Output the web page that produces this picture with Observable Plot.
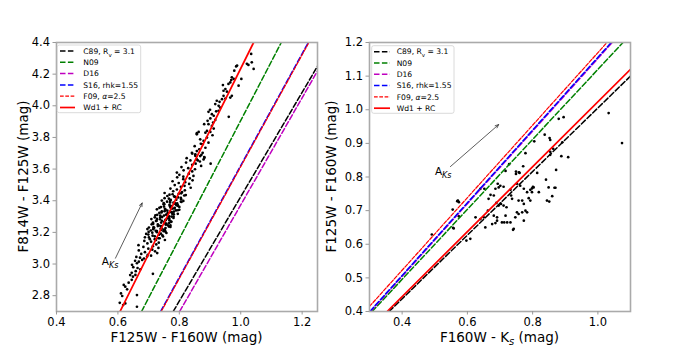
<!DOCTYPE html>
<html><head><meta charset="utf-8">
<script src="https://cdn.jsdelivr.net/npm/d3@7"></script>
<script src="https://cdn.jsdelivr.net/npm/@observablehq/plot@0.6"></script>
<style>
body{margin:0;background:#fff;font-family:"DejaVu Sans",sans-serif;}
#wrap{position:relative;width:700px;height:350px;overflow:hidden;background:#fff;}
#wrap svg{position:absolute;top:0;}
</style></head><body><div id="wrap"></div>
<script>
// ---- tick values ----
const leftXTicks = [0.4, 0.6, 0.8, 1.0, 1.2];
const leftYTicks = [2.8, 3.0, 3.2, 3.4, 3.6, 3.8, 4.0, 4.2, 4.4];
const rightXTicks = [0.4, 0.6, 0.8, 1.0];
const rightYTicks = [0.4, 0.5, 0.6, 0.7, 0.8, 0.9, 1.0, 1.1, 1.2];
const leftXDomain = [0.4, 1.25], leftYDomain = [2.7, 4.4];
const rightXDomain = [0.3, 1.1], rightYDomain = [0.4, 1.2];

// ---- models (legend order) ----
const models = ["C89", "N09", "D16", "S16", "F09", "Wd1"];
// reddening lines, start and end points (data units)
const leftLineStart = [[0.780, 2.7], [0.677, 2.7], [0.801, 2.7], [0.739, 2.7], [0.741, 2.7], [0.607, 2.7]];
const leftLineEnd   = [[1.250, 4.25], [1.132, 4.4], [1.250, 4.22], [1.220, 4.4], [1.222, 4.4], [1.042, 4.4]];
const rightLineStart = [[0.360, 0.4], [0.308, 0.4], [0.303, 0.4], [0.301, 0.4], [0.300, 0.415], [0.354, 0.4]];
const rightLineEnd   = [[1.100, 1.10], [1.077, 1.2], [1.044, 1.2], [1.041, 1.2], [1.028, 1.2], [1.100, 1.12]];

// ---- arrows (A_Ks) ----
const leftArrow = [[0.592, 3.037], [0.679, 3.386]];
const leftArrowLabel = [0.549, 2.99];
const rightArrow = [[0.548, 0.831], [0.696, 0.956]];
const rightArrowLabel = [0.502, 0.804];

// ---- stars: F125W-F160W vs F814W-F125W ----
const leftStars = [
[1.034,4.328],[1.042,4.233],[1.020,4.265],[1.025,4.258],[0.985,4.249],[0.979,4.222],[0.971,4.180],[0.977,4.170],[0.969,4.163],[1.002,4.170],
[0.993,4.127],[0.966,4.148],[0.960,4.138],[0.942,4.131],[0.950,4.106],[0.944,4.095],[0.955,4.089],[0.971,4.063],[0.966,4.052],[0.944,4.063],
[0.950,4.046],[0.939,4.042],[0.922,4.032],[0.931,4.025],[0.917,4.011],[0.928,4.000],[0.933,3.989],[0.961,3.930],[1.036,4.275],[0.988,4.254],
[0.895,3.962],[0.906,3.947],[0.912,3.937],[0.901,3.920],[0.917,3.911],[0.910,3.894],[0.895,3.884],[0.906,3.873],[0.912,3.856],[0.901,3.835],
[0.890,3.841],[0.900,3.975],[0.920,3.965],[0.892,3.905],[0.928,3.968],[0.881,3.884],
[0.863,3.835],[0.857,3.820],[0.885,3.830],[0.890,3.799],[0.908,3.814],[0.879,3.778],[0.895,3.767],[0.868,3.788],[0.876,3.757],[0.885,3.735],
[0.857,3.714],[0.865,3.725],[0.852,3.693],[0.868,3.682],[0.876,3.703],[0.882,3.672],[0.879,3.661],[0.841,3.703],[0.870,3.760],[0.850,3.745],
[0.902,3.634],[0.860,3.655],[0.857,3.827],
[0.842,3.698],[0.872,3.690],[0.852,3.684],[0.881,3.676],[0.824,3.669],[0.857,3.662],[0.836,3.655],[0.867,3.648],[0.822,3.641],[0.853,3.634],
[0.842,3.627],[0.871,3.620],[0.807,3.613],[0.829,3.606],[0.851,3.599],[0.814,3.592],[0.842,3.585],[0.792,3.578],[0.831,3.571],[0.800,3.564],
[0.846,3.557],[0.813,3.552],
[0.793,3.548],[0.834,3.541],[0.813,3.536],[0.843,3.529],[0.778,3.523],[0.819,3.517],[0.798,3.512],[0.832,3.506],[0.785,3.499],[0.817,3.494],
[0.805,3.488],[0.837,3.482],[0.771,3.477],[0.792,3.471],[0.818,3.466],[0.780,3.460],[0.809,3.455],[0.752,3.449],[0.798,3.444],[0.768,3.438],
[0.816,3.433],[0.783,3.427],[0.796,3.421],[0.752,3.416],[0.806,3.410],[0.772,3.405],[0.813,3.399],[0.760,3.394],[0.781,3.388],[0.793,3.383],
[0.749,3.377],[0.791,3.372],[0.769,3.366],[0.800,3.361],[0.735,3.355],[0.776,3.350],[0.755,3.344],[0.789,3.339],[0.743,3.333],[0.775,3.328],
[0.762,3.322],[0.795,3.317],[0.728,3.311],[0.750,3.306],[0.775,3.300],[0.738,3.295],[0.767,3.289],[0.709,3.284],[0.756,3.278],[0.726,3.273],
[0.774,3.267],[0.741,3.262],[0.754,3.256],[0.710,3.251],[0.763,3.245],[0.730,3.240],[0.771,3.234],[0.718,3.229],[0.739,3.223],[0.750,3.218],
[0.707,3.212],[0.749,3.207],[0.727,3.201],[0.758,3.196],[0.692,3.190],[0.734,3.185],[0.713,3.179],[0.747,3.174],[0.701,3.168],[0.732,3.163],
[0.720,3.157],[0.753,3.152],[0.686,3.146],[0.708,3.141],[0.733,3.135],[0.696,3.130],[0.725,3.124],[0.667,3.119],[0.714,3.113],[0.683,3.108],
[0.732,3.102],[0.699,3.097],[0.712,3.091],[0.668,3.086],[0.721,3.080],[0.688,3.075],[0.728,3.069],[0.676,3.064],[0.697,3.058],[0.708,3.053],
[0.806,3.447],[0.778,3.441],[0.821,3.436],[0.761,3.430],[0.786,3.424],[0.805,3.418],[0.766,3.413],[0.790,3.407],[0.743,3.401],[0.805,3.395],
[0.770,3.389],[0.786,3.384],[0.751,3.378],[0.795,3.372],[0.776,3.366],[0.740,3.360],[0.785,3.355],[0.753,3.349],[0.800,3.343],[0.761,3.337],
[0.782,3.331],[0.742,3.326],[0.763,3.320],[0.782,3.314],[0.722,3.308],[0.767,3.302],[0.744,3.297],[0.781,3.291],[0.727,3.285],[0.755,3.279],
[0.743,3.273],[0.773,3.268],[0.714,3.262],[0.758,3.256],[0.730,3.250],[0.771,3.244],[0.740,3.239],[0.716,3.233],[0.755,3.227],[0.696,3.221],
[0.742,3.215],[0.723,3.210],[0.755,3.204],[0.712,3.198],[0.740,3.192],[0.699,3.186],[0.745,3.181],[0.720,3.175],[0.688,3.169],[0.736,3.163],
[0.704,3.157],[0.724,3.152],
[0.770,3.398],[0.807,3.392],[0.749,3.385],[0.787,3.380],[0.768,3.374],[0.795,3.368],[0.750,3.363],[0.771,3.357],[0.783,3.351],[0.727,3.346],
[0.795,3.340],[0.752,3.334],[0.770,3.329],[0.735,3.323],[0.777,3.317],[0.757,3.312],[0.738,3.306],[0.781,3.300],[0.720,3.295],[0.762,3.289],
[0.737,3.283],[0.768,3.277],[0.724,3.272],[0.751,3.266],[0.767,3.260],[0.715,3.254],[0.756,3.249],[0.733,3.243],[0.766,3.237],[0.701,3.231],
[0.742,3.226],[0.715,3.220],[0.753,3.214],[0.727,3.208],[0.700,3.203],
[0.660,3.045],[0.672,3.040],[0.685,3.035],[0.656,3.020],[0.668,3.015],[0.646,2.995],[0.662,3.005],[0.673,2.967],[0.650,2.980],[0.664,2.975],
[0.658,2.955],[0.649,2.920],[0.657,2.931],[0.714,2.938],[0.645,2.945],[0.640,2.930],[0.679,3.026],[0.695,3.047],
[0.635,2.882],[0.624,2.857],[0.619,2.868],[0.610,2.814],[0.606,2.755],[0.617,2.741],[0.662,2.730],[0.630,2.840],[0.645,2.900],[0.614,2.798],
[0.662,2.804],[0.624,2.751]
];

// ---- stars: F160W-Ks vs F125W-F160W ----
const rightStars = [
[1.033,0.990],[1.074,0.901],[0.895,0.978],[0.880,0.973],[0.837,0.926],[0.852,0.916],[0.854,0.910],[0.805,0.906],[0.778,0.871],[0.771,0.832],
[0.749,0.816],[0.749,0.809],[0.728,0.838],[0.717,0.818],[0.814,0.812],[0.872,0.821],[0.891,0.903],[0.863,0.884],[0.888,0.862],[0.909,0.859],
[0.854,0.875],[0.854,0.866],[0.758,0.814],[0.760,0.812],[0.841,0.792],[0.870,0.768],[0.693,0.780],[0.701,0.774],[0.711,0.771],[0.752,0.780],
[0.762,0.774],[0.801,0.771],[0.793,0.762],[0.732,0.762],[0.652,0.765],[0.696,0.769],[0.665,0.735],[0.689,0.723],[0.696,0.715],[0.703,0.720],
[0.711,0.715],[0.720,0.710],[0.737,0.735],[0.757,0.730],[0.768,0.730],[0.773,0.720],[0.778,0.700],[0.768,0.695],[0.783,0.695],[0.752,0.695],
[0.757,0.690],[0.773,0.765],[0.783,0.755],[0.798,0.755],[0.798,0.766],[0.844,0.730],[0.860,0.743],[0.851,0.727],[0.663,0.700],[0.681,0.685],
[0.691,0.680],[0.691,0.670],[0.686,0.663],[0.722,0.665],[0.732,0.665],[0.742,0.646],[0.747,0.680],[0.717,0.685],[0.655,0.650],[0.676,0.660],
[0.640,0.675],[0.650,0.680],[0.625,0.680],[0.597,0.611],[0.609,0.616],[0.574,0.725],[0.571,0.730],[0.558,0.647],[0.671,0.747],[0.681,0.745],
[0.640,0.765],[0.686,0.765],[0.734,0.745],[0.793,0.730],[0.788,0.737],[0.803,0.769],[0.849,0.769],[0.867,0.768],[0.569,0.728],[0.555,0.703],
[0.574,0.683],[0.556,0.649],[0.491,0.629],[0.706,0.665],[0.713,0.665],[0.740,0.643],[0.773,0.670],[0.819,0.755]
];

// ---- styling (not data) ----
const modelStyle = {
  C89: {stroke: "black",   dash: "5.5,2.4", width: 1.5},
  N09: {stroke: "#008000", dash: "5.5,2.4", width: 1.5},
  D16: {stroke: "#bf00bf", dash: "5.5,2.4", width: 1.5},
  S16: {stroke: "#0000ff", dash: "5.5,2.4", width: 1.5},
  F09: {stroke: "#ff0000", dash: "3.7,1.6", width: 1.2},
  Wd1: {stroke: "#ff0000", dash: null,      width: 1.7}
};
const legendLabels = {
  C89: [["C89, R"], ["v", "sub"], [" = 3.1"]],
  N09: [["N09"]],
  D16: [["D16"]],
  S16: [["S16, rhk=1.55"]],
  F09: [["F09, "], ["α", "it"], ["=2.5"]],
  Wd1: [["Wd1 + RC"]]
};

const FONT = "DejaVu Sans";

function richText(sel, parts, subSize) {
  let shifted = false;
  parts.forEach(([t, kind]) => {
    const ts = sel.append("tspan").text(t);
    if (kind === "sub" || kind === "subit") {
      ts.attr("font-size", subSize).attr("font-style", kind === "subit" ? "italic" : "normal");
      if (!shifted) { ts.attr("dy", 3); shifted = true; }
    } else {
      if (kind === "it") ts.attr("font-style", "italic");
      if (shifted) { ts.attr("dy", -3); shifted = false; }
    }
  });
}

function panel(cfg) {
  const lineMarks = models.map((m, i) => Plot.line([cfg.start[i], cfg.end[i]], {
    x: d => d[0], y: d => d[1], stroke: modelStyle[m].stroke, strokeWidth: modelStyle[m].width,
    strokeDasharray: modelStyle[m].dash, clip: true
  }));
  const svg = Plot.plot({
    width: cfg.width, height: 350,
    marginLeft: cfg.ml, marginRight: cfg.mr, marginTop: 42, marginBottom: 39,
    x: {domain: cfg.xd}, y: {domain: cfg.yd},
    style: {fontFamily: FONT, background: "none", overflow: "visible", color: "black"},
    marks: [
      Plot.dot(cfg.stars, {x: d => d[0], y: d => d[1], r: 1.35, fill: "black", stroke: null, clip: true}),
      ...lineMarks,
      Plot.arrow([cfg.arrow], {x1: d => d[0][0], y1: d => d[0][1], x2: d => d[1][0], y2: d => d[1][1],
        stroke: "#333", strokeWidth: 0.8, headLength: 7, headAngle: 45}),
      Plot.frame({stroke: "#aaaaaa", strokeWidth: 1.6}),
      Plot.axisX(cfg.xt, {tickSize: 3.5, tickPadding: 2.5, stroke: "#999", fill: "black", fontSize: 11.5,
        tickFormat: d3.format(".1f"), label: null}),
      Plot.axisY(cfg.yt, {tickSize: 3.5, tickPadding: 3, stroke: "#999", fill: "black", fontSize: 11.5,
        tickFormat: d3.format(".1f"), label: null})
    ]
  });
  const sx = svg.scale("x"), sy = svg.scale("y");
  const s = d3.select(svg);
  const fx0 = cfg.ml, fx1 = cfg.width - cfg.mr;
  // axis labels
  const xl = s.append("text").attr("x", (fx0 + fx1) / 2).attr("y", 341.5).attr("text-anchor", "middle")
    .attr("font-family", FONT).attr("font-size", 13.5).attr("fill", "black");
  richText(xl, cfg.xlabel, 10);
  s.append("text").attr("transform", `translate(${cfg.ylx},176.5) rotate(-90)`).attr("text-anchor", "middle")
    .attr("font-family", FONT).attr("font-size", 13.5).attr("fill", "black").text(cfg.ylabel);
  // A_Ks label
  const al = s.append("text").attr("x", sx.apply(cfg.arrowLabel[0])).attr("y", sy.apply(cfg.arrowLabel[1]))
    .attr("text-anchor", "start").attr("font-family", FONT).attr("font-size", 10.5).attr("fill", "black");
  richText(al, [["A"], ["Ks", "subit"]], 8);
  // legend
  const L = cfg.legend;
  const g = s.append("g");
  g.append("rect").attr("x", L.x).attr("y", L.y).attr("width", L.w).attr("height", L.h).attr("rx", 2)
    .attr("fill", "white").attr("fill-opacity", 0.85).attr("stroke", "#d0d0d0").attr("stroke-width", 0.8);
  models.forEach((m, i) => {
    const y = L.y + 6 + i * 11.3;
    const st = modelStyle[m];
    g.append("line").attr("x1", L.hx0).attr("x2", L.hx1).attr("y1", y).attr("y2", y)
      .attr("stroke", st.stroke).attr("stroke-width", st.width).attr("stroke-dasharray", st.dash);
    const t = g.append("text").attr("x", L.tx).attr("y", y + 2.7).attr("text-anchor", "start")
      .attr("font-family", FONT).attr("font-size", 7.6).attr("fill", "black");
    richText(t, legendLabels[m], 5.5);
  });
  return svg;
}

const wrap = document.getElementById("wrap");
const left = panel({
  width: 330, ml: 56, mr: 13, xd: leftXDomain, yd: leftYDomain, xt: leftXTicks, yt: leftYTicks,
  start: leftLineStart, end: leftLineEnd, stars: leftStars, arrow: leftArrow, arrowLabel: leftArrowLabel,
  xlabel: [["F125W - F160W (mag)"]], ylabel: "F814W - F125W (mag)", ylx: 28.3,
  legend: {x: 57.3, y: 45, w: 83.4, h: 67.7, hx0: 60, hx1: 75, tx: 83.3}
});
left.style.left = "0px";
wrap.appendChild(left);
const right = panel({
  width: 370, ml: 39, mr: 70, xd: rightXDomain, yd: rightYDomain, xt: rightXTicks, yt: rightYTicks,
  start: rightLineStart, end: rightLineEnd, stars: rightStars, arrow: rightArrow, arrowLabel: rightArrowLabel,
  xlabel: [["F160W - K"], ["s", "subit"], [" (mag)"]], ylabel: "F125W - F160W (mag)", ylx: 6,
  legend: {x: 41.7, y: 45.7, w: 82.3, h: 67.6, hx0: 44, hx1: 60, tx: 66.7}
});
right.style.left = "330px";
wrap.appendChild(right);
</script></body></html>
